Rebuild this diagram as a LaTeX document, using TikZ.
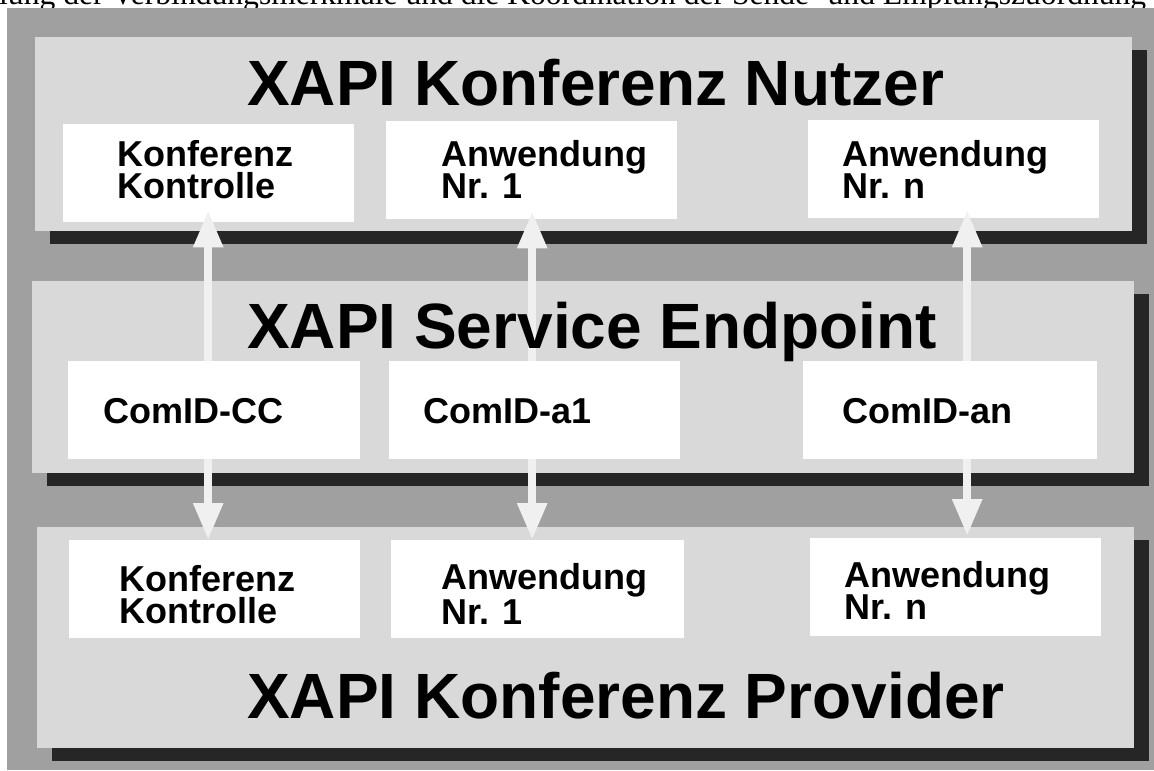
\documentclass[tikz,border=0pt]{standalone}
\usepackage{fontspec}
\setmainfont{Liberation Sans}
\newfontfamily\runningfont{Liberation Serif}
\usetikzlibrary{arrows.meta,shadows,calc}

\definecolor{bggray}{HTML}{A0A0A0}
\definecolor{panelgray}{HTML}{D9D9D9}
\definecolor{shadowgray}{HTML}{262626}
\definecolor{arrowwhite}{HTML}{F0F0F0}

\tikzset{
  panel/.style={fill=panelgray, anchor=north west, inner sep=0pt,
    drop shadow={shadow xshift=15pt, shadow yshift=-12.5pt,
                 fill=shadowgray, opacity=1}},
  wbox/.style={fill=white, anchor=north west, inner sep=0pt,
    minimum width=291pt, minimum height=98pt},
  title/.style={anchor=base west, inner sep=0pt,
    font=\bfseries\fontsize{64}{70}\selectfont},
  lbl/.style={anchor=base west, inner sep=0pt,
    font=\bfseries\fontsize{36}{38}\selectfont},
  biarrow/.style={draw=arrowwhite, line width=8.5pt,
    {Triangle[width=28pt,length=37pt,fill=arrowwhite]}-{Triangle[width=28pt,length=37pt,fill=arrowwhite]}}
}

\begin{document}
\begin{tikzpicture}[x=1pt,y=-1pt]
\useasboundingbox (0,0) rectangle (1154,771);
\clip (0,0) rectangle (1154,771);

% running text line of the page, largely hidden behind the frame
\node[anchor=base west, inner sep=0pt, font=\runningfont\fontsize{31.6}{36}\selectfont]
  (runline) at (-1,5) {lung der Verbindungsmerkmale und die Koordination der Sende- und Empfangszuordnung};

% frame
\fill[bggray] (7,8) rectangle (1154,770);

% layers
\node[panel, minimum width=1097pt, minimum height=194pt] (user) at (35,37) {};
\node[panel, minimum width=1102pt, minimum height=192pt] (sep)  at (32,281) {};
\node[panel, minimum width=1097pt, minimum height=221pt] (prov) at (37,527) {};

% application boxes of the user and provider layers
\node[wbox] (u1) at (63,124) {};
\node[wbox] (u2) at (386,121) {};
\node[wbox] (u3) at (808,120) {};
\node[wbox] (p1) at (69,540) {};
\node[wbox, minimum width=293pt] (p2) at (391,540) {};
\node[wbox] (p3) at (810,538) {};

% communication paths through the service endpoint
\draw[biarrow] ($(u1.south)+(-0.5,-12)$) -- ($(p1.north)+(-6.5,0)$);
\draw[biarrow] ($(u2.south)+(0.5,-8)$) -- ($(p2.north)+(-5.5,0)$);
\draw[biarrow] ($(u3.south)+(13.5,-8)$) -- ($(p3.north)+(11.5,-2)$);

% ComID boxes of the service endpoint
\node[wbox, minimum width=292pt] (s1) at (68,361) {};
\node[wbox, minimum width=291pt] (s2) at (389,361) {};
\node[wbox, minimum width=294pt] (s3) at (803,361) {};

% layer titles
\node[title] (userT) at (247,105) {XAPI Konferenz Nutzer};
\node[title] (sepT)  at (247,348) {XAPI Service Endpoint};
\node[title] (provT) at (247,718) {XAPI Konferenz Provider};

% labels, user layer
\node[lbl] (u1a) at (117,166) {Konferenz};
\node[lbl] (u1b) at (117,198.5) {Kontrolle};
\node[lbl] (u2a) at (441,166) {Anwendung};
\node[lbl] (u2b) at (441,198.5) {Nr. 1};
\node[lbl] (u3a) at (842,166) {Anwendung};
\node[lbl] (u3b) at (842,198.5) {Nr. n};

% labels, service endpoint
\node[lbl] (s1a) at (103,423) {ComID-CC};
\node[lbl] (s2a) at (423,423) {ComID-a1};
\node[lbl] (s3a) at (842,423) {ComID-an};

% labels, provider layer
\node[lbl] (p1a) at (119,591) {Konferenz};
\node[lbl] (p1b) at (119,623) {Kontrolle};
\node[lbl] (p2a) at (441,589) {Anwendung};
\node[lbl] (p2b) at (441,624) {Nr. 1};
\node[lbl] (p3a) at (844,587) {Anwendung};
\node[lbl] (p3b) at (844,619) {Nr. n};
\end{tikzpicture}
\end{document}
